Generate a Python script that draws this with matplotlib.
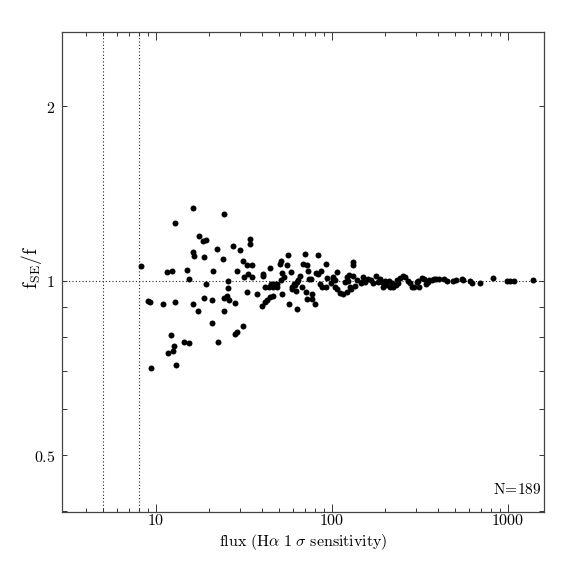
import matplotlib
matplotlib.use("Agg")
import matplotlib.pyplot as plt
from matplotlib.ticker import FixedLocator, FixedFormatter, NullFormatter

plt.rcParams['mathtext.fontset'] = 'cm'
plt.rcParams['font.family'] = ['DejaVu Serif']

flux = [
    8.25, 8.97, 9.24, 9.39, 10.89, 11.50, 12.28, 11.62, 12.17, 12.54,
    12.66, 12.87, 12.87, 12.99, 14.37, 15.34, 14.91, 15.30, 16.23, 16.29,
    16.51, 16.23, 17.44, 18.37, 19.23, 17.39, 18.81, 18.74, 19.16, 20.89,
    20.81, 21.17, 22.22, 22.36, 24.34, 24.12, 24.34, 25.42, 25.89, 25.48,
    25.71, 24.44, 27.50, 30.09, 28.93, 28.18, 28.11, 28.86, 31.21, 31.33,
    31.50, 32.75, 35.12, 34.20, 34.20, 33.45, 34.98, 32.97, 37.49, 40.71,
    40.39, 41.63, 43.58, 39.76, 41.63, 42.72, 44.44, 46.22, 44.15,
    55.87, 70.52, 82.94, 51.30, 50.31, 55.28, 68.69, 72.40, 92.45, 73.06,
    51.78, 58.73, 80.80, 82.94, 86.58, 65.79, 74.30, 75.68, 51.10, 64.09,
    63.25, 93.31, 101.7, 85.45, 87.40, 92.45, 47.00, 48.50, 46.4, 48.88,
    61.07, 61.87, 67.80, 59.48, 59.02, 71.17, 62.69, 51.78, 77.29, 77.29,
    71.83, 56.98, 63.51, 80.06,
    131.1, 131.1, 106.3, 101.7, 104.0, 121.2, 124.4, 132.1, 147.5, 154.0,
    160.8, 165.9, 177.2, 187.4, 193.1, 200.9, 211.7, 218.4, 233.2, 238.1,
    104.0, 107.2, 118.6, 123.8, 126.6, 127.7, 111.0, 115.0, 122.2, 145.6,
    195.6, 202.7, 213.6, 223.0, 231.0,
    243.5, 254.2, 259.9, 271.3, 277.5, 283.8, 293.5, 302.9, 309.3, 312.1,
    323.4, 334.5, 349.8, 355.7, 368.6, 381.3, 388.4, 405.5, 489.0, 504.6,
    545.7, 557.2, 608.3, 622.0, 693.3, 825.0, 990.9, 1026.6, 1081.6, 1381.6,
    98.1, 138.7, 169.9, 181.4, 432.9, 450.2, 339.9, 135.1, 53.38, 45.02, 150.0,
]

ratio = [
    1.060, 0.924, 0.918, 0.706, 0.911, 1.037, 1.038, 0.750, 0.807, 0.756,
    0.771, 1.256, 0.920, 0.716, 0.784, 0.780, 1.042, 1.008, 1.337, 1.121,
    1.104, 0.913, 1.194, 1.172, 1.174, 0.888, 1.097, 0.935, 0.987, 0.927,
    0.846, 1.038, 1.134, 0.783, 1.302, 1.089, 0.933, 0.940, 0.928, 0.998,
    0.973, 0.886, 1.146, 1.131, 1.038, 0.915, 0.810, 0.817, 0.834, 1.082,
    1.016, 1.063, 1.063, 1.182, 1.157, 1.029, 1.014, 0.955, 0.949, 1.029,
    1.021, 0.974, 0.974, 0.906, 0.919, 0.928, 0.937, 0.943, 1.050,
    1.107, 1.111, 1.108, 1.080, 1.071, 1.066, 1.067, 1.063, 1.069, 1.040,
    1.031, 1.034, 1.030, 1.026, 1.038, 1.020, 1.006, 1.007, 1.003, 1.003,
    0.996, 1.010, 1.008, 0.986, 0.976, 0.975, 0.987, 0.986, 0.976, 0.976,
    0.987, 0.982, 0.976, 0.976, 0.966, 0.956, 0.961, 0.950, 0.947, 0.932,
    0.930, 0.911, 0.894, 0.912,
    1.078, 1.066, 1.036, 1.016, 1.003, 1.016, 1.023, 1.020, 0.996, 0.994,
    1.006, 1.003, 1.020, 1.006, 0.996, 1.000, 1.000, 0.992, 1.003, 0.992,
    0.976, 0.968, 0.994, 0.999, 0.976, 0.968, 0.953, 0.949, 0.957, 0.990,
    0.976, 0.982, 0.976, 0.976, 0.982,
    1.012, 1.020, 1.014, 0.999, 0.990, 0.974, 0.976, 0.996, 0.999, 0.974,
    1.010, 1.007, 0.996, 1.003, 1.003, 1.006, 1.007, 1.006, 0.998, 1.003,
    1.006, 1.003, 1.000, 0.992, 0.992, 1.011, 0.999, 0.999, 1.000, 1.003,
    0.991, 1.003, 0.991, 0.997, 1.009, 0.999, 0.989, 0.979, 1.015, 0.989, 1.015,
]

limit_lines = [5, 8]
x_major = [10, 100, 1000]
x_major_labels = [r'$10$', r'$100$', r'$1000$']
x_minor = [4, 5, 6, 7, 8, 9, 20, 30, 40, 50, 60, 70, 80, 90,
           200, 300, 400, 500, 600, 700, 800, 900]
y_major = [0.5, 1, 2]
y_major_labels = [r'$0.5$', r'$1$', r'$2$']
y_minor = [0.4, 0.6, 0.7, 0.8, 0.9]

fig = plt.figure(figsize=(5.74, 5.74), dpi=100)
ax = fig.add_axes([0.108, 0.108, 0.840, 0.836])
ax.set_xscale('log')
ax.set_yscale('log')
ax.set_xlim(2.923, 1601)
ax.set_ylim(0.3991, 2.685)

dot = dict(color='#222222', lw=0.8, ls=(0, (1, 2)), zorder=1)
for v in limit_lines:
    ax.axvline(v, **dot)
ax.axhline(1, **dot)

ax.plot(flux, ratio, 'o', color='black', ms=4.3, mew=0, zorder=3)

ax.xaxis.set_major_locator(FixedLocator(x_major))
ax.xaxis.set_major_formatter(FixedFormatter(x_major_labels))
ax.xaxis.set_minor_locator(FixedLocator(x_minor))
ax.xaxis.set_minor_formatter(NullFormatter())
ax.yaxis.set_major_locator(FixedLocator(y_major))
ax.yaxis.set_major_formatter(FixedFormatter(y_major_labels))
ax.yaxis.set_minor_locator(FixedLocator(y_minor))
ax.yaxis.set_minor_formatter(NullFormatter())

ax.tick_params(axis='both', which='both', direction='in', top=True, right=True,
               color='#333333', width=0.7, labelsize=11.5)
ax.tick_params(axis='x', which='major', length=6, pad=0)
ax.tick_params(axis='x', which='minor', length=3)
ax.tick_params(axis='y', which='major', length=3.5, pad=5)
ax.tick_params(axis='y', which='minor', length=3.5)

for s in ax.spines.values():
    s.set_color('#444444')
    s.set_linewidth(0.9)

ax.set_xlabel(r'$\mathrm{flux}\ (\mathrm{H}\alpha\ 1\ \sigma\ \mathrm{sensitivity})$',
              fontsize=11.5, labelpad=2)
ax.set_ylabel(r'$\mathrm{f}_{\mathrm{SE}}/\mathrm{f}$', fontsize=14)
ax.yaxis.set_label_coords(-0.037, 0.51)

ax.text(0.994, 0.046, r'$\mathrm{N\!=\!189}$', transform=ax.transAxes,
        ha='right', va='center', fontsize=11)

fig.savefig('out.png', dpi=100)
